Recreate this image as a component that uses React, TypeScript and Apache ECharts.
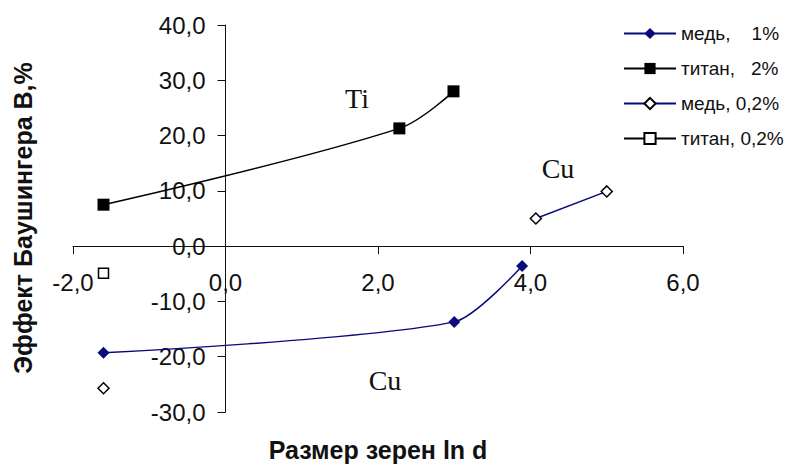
import React, { useEffect, useRef } from "react";
import * as echarts from "echarts";

const xTickMin = -2;
const xTickMax = 6;
const xTickStep = 2;
const yTickMin = -30;
const yTickMax = 40;
const yTickStep = 10;

const seriesNames = ["медь,    1%", "титан,   2%", "медь, 0,2%", "титан, 0,2%"];

const cuHighX = [-1.6, 3.0, 3.89];
const cuHighY = [-19.3, -13.7, -3.6];
const tiHighX = [-1.6, 2.28, 2.99];
const tiHighY = [7.5, 21.3, 28.0];
const cuLowX: (number | null)[] = [-1.6, null, 4.07, 5.0];
const cuLowY: (number | null)[] = [-25.7, null, 5.0, 9.9];
const tiLowX = [-1.6];
const tiLowY = [-4.9];

const xTitle = "Размер зерен ln d";
const yTitle = "Эффект Баушингера В,%";
const notes = ["Ti", "Cu", "Cu"];

const pairs = (xs: (number | null)[], ys: (number | null)[]) =>
  xs.map((x, i) => (x === null || ys[i] === null ? ["-", "-"] : [x, ys[i]]));

const fmt = (v: number) => v.toFixed(1).replace(".", ",");

const W = 794;
const H = 470;
const GRID = { left: 73, right: 111, top: 25, bottom: 58 };

export default function App() {
  const ref = useRef<HTMLDivElement>(null);
  useEffect(() => {
    if (!ref.current) return;
    const chart = echarts.init(ref.current, null, { renderer: "svg" });
    const navy = "#0a0a7a";
    const gw = W - GRID.left - GRID.right;
    const gh = H - GRID.top - GRID.bottom;
    // place each axis where the other axis's value is zero
    const xOffset = -gh * ((0 - yTickMin) / (yTickMax - yTickMin));
    const yOffset = -gw * ((0 - xTickMin) / (xTickMax - xTickMin));
    const axisCommon = {
      axisLine: { onZero: false, lineStyle: { color: "#111", width: 1 } },
      axisTick: { show: true, length: 8, lineStyle: { color: "#111", width: 1 } },
      splitLine: { show: false },
    };
    chart.setOption({
      animation: false,
      backgroundColor: "#fff",
      grid: { ...GRID, containLabel: false },
      xAxis: {
        type: "value",
        position: "bottom",
        offset: xOffset,
        min: xTickMin,
        max: xTickMax,
        interval: xTickStep,
        ...axisCommon,
        axisLabel: {
          margin: 24,
          formatter: fmt,
          fontFamily: "Liberation Sans",
          fontSize: 24,
          color: "#111",
        },
      },
      yAxis: {
        type: "value",
        position: "left",
        offset: yOffset,
        min: yTickMin,
        max: yTickMax,
        interval: yTickStep,
        ...axisCommon,
        axisLabel: {
          margin: 20,
          formatter: fmt,
          fontFamily: "Liberation Sans",
          fontSize: 24,
          color: "#111",
        },
      },
      legend: {
        orient: "vertical",
        left: 623,
        top: 24,
        padding: 0,
        itemWidth: 52,
        itemHeight: 14,
        itemGap: 16,
        textStyle: {
          fontFamily: "Liberation Sans",
          fontSize: 19,
          color: "#111",
        },
        data: seriesNames,
      },
      series: [
        {
          name: seriesNames[0],
          type: "line",
          smooth: 0.25,
          data: pairs(cuHighX, cuHighY),
          symbol: "diamond",
          symbolSize: 12,
          lineStyle: { color: navy, width: 1.5 },
          itemStyle: { color: navy },
        },
        {
          name: seriesNames[1],
          type: "line",
          smooth: 0.35,
          data: pairs(tiHighX, tiHighY),
          symbol: "rect",
          symbolSize: 12,
          lineStyle: { color: "#000", width: 1.5 },
          itemStyle: { color: "#000" },
        },
        {
          name: seriesNames[2],
          type: "line",
          data: pairs(cuLowX, cuLowY),
          symbol: "diamond",
          symbolSize: 11,
          connectNulls: false,
          lineStyle: { color: navy, width: 1.5 },
          itemStyle: { color: "#fff", borderColor: "#000", borderWidth: 1.5 },
        },
        {
          name: seriesNames[3],
          type: "line",
          data: pairs(tiLowX, tiLowY),
          symbol: "rect",
          symbolSize: 10,
          lineStyle: { color: "#000", width: 1.5 },
          itemStyle: { color: "#fff", borderColor: "#000", borderWidth: 1.5 },
        },
      ],
      graphic: [
        {
          type: "text",
          x: 378,
          y: 450,
          style: {
            text: xTitle,
            fontFamily: "Liberation Sans",
            fontWeight: "bold",
            fontSize: 25,
            fill: "#111",
            align: "center",
            verticalAlign: "middle",
          },
        },
        {
          type: "text",
          x: 23,
          y: 218,
          rotation: Math.PI / 2,
          style: {
            text: yTitle,
            fontFamily: "Liberation Sans",
            fontWeight: "bold",
            fontSize: 25,
            fill: "#111",
            align: "center",
            verticalAlign: "middle",
          },
        },
        {
          type: "text",
          x: 357,
          y: 98,
          style: { text: notes[0], fontFamily: "Liberation Serif", fontSize: 28, fill: "#111", align: "center", verticalAlign: "middle" },
        },
        {
          type: "text",
          x: 558,
          y: 168,
          style: { text: notes[1], fontFamily: "Liberation Serif", fontSize: 28, fill: "#111", align: "center", verticalAlign: "middle" },
        },
        {
          type: "text",
          x: 385,
          y: 380,
          style: { text: notes[2], fontFamily: "Liberation Serif", fontSize: 28, fill: "#111", align: "center", verticalAlign: "middle" },
        },
      ],
    });
    return () => chart.dispose();
  }, []);
  return (
    <div
      ref={ref}
      style={{ position: "fixed", left: 0, top: 0, width: W, height: H, background: "#fff" }}
    />
  );
}
